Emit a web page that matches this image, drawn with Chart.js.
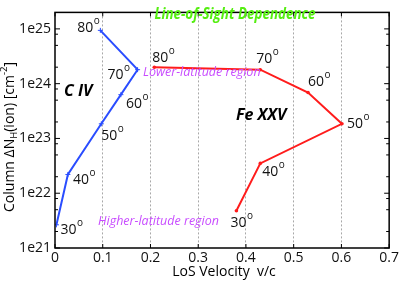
<!DOCTYPE html>
<html>
<head>
<meta charset="utf-8">
<script src="https://cdn.jsdelivr.net/npm/chart.js@4/dist/chart.umd.min.js"></script>
<style>
  html, body { margin: 0; padding: 0; background: #fff; }
  #wrap { width: 401px; height: 282px; }
</style>
</head>
<body>
<div id="wrap"><canvas id="losChart" width="401" height="282"></canvas></div>
<script>
// viewing angles (degrees) for each point
const angles = [30, 40, 50, 60, 70, 80];

// C IV: LoS velocity (v/c) and column density
const civVelocity = [0.003, 0.027, 0.097, 0.138, 0.173, 0.095];
const civColumn = [2.65e21, 2.2e22, 1.85e23, 6.3e23, 1.8e24, 9.4e24];

// Fe XXV
const fexxvVelocity = [0.38, 0.43, 0.601, 0.53, 0.43, 0.208];
const fexxvColumn = [4.8e21, 3.5e22, 1.85e23, 6.9e23, 1.8e24, 2.0e24];

// axis ticks
const xTicks = [0, 0.1, 0.2, 0.3, 0.4, 0.5, 0.6, 0.7];
const yTicks = [1e21, 1e22, 1e23, 1e24, 1e25];

// label offsets from each point (px), text left edge / middle
const civLabelOffsets = [[4, 5], [5, 6], [0, 12], [5, 9], [-30, 5], [-23, -2]];
const fexxvLabelOffsets = [[-6, 12], [2, 9], [5, 0], [0, -10], [-4, -11], [-2, -9]];

const FONT = '"Open Sans", "DejaVu Sans", sans-serif';
const NARROW = '"Liberation Sans Narrow", "Open Sans", sans-serif';
const BLUE = '#2a4dff';
const RED = '#ff1c1c';

function toPoints(xs, ys) {
    return xs.map((x, i) => ({ x: x, y: ys[i] }));
}

const annotations = {
    id: 'annotations',
    afterDraw(chart) {
        const ctx = chart.ctx;
        const xs = chart.scales.x;
        const ys = chart.scales.y;
        const area = chart.chartArea;

        ctx.save();

        // frame
        ctx.strokeStyle = '#000';
        ctx.lineWidth = 1.5;
        ctx.strokeRect(area.left, area.top, area.right - area.left, area.bottom - area.top);

        // inward ticks, y (major + minor) on both sides
        ctx.lineWidth = 1;
        yTicks.forEach((v, i) => {
            const py = ys.getPixelForValue(v);
            ctx.beginPath();
            ctx.moveTo(area.left, py); ctx.lineTo(area.left + 5, py);
            ctx.moveTo(area.right, py); ctx.lineTo(area.right - 5, py);
            ctx.stroke();
            if (i < yTicks.length - 1) {
                [2, 5, 8].forEach(m => {
                    const pm = ys.getPixelForValue(v * m);
                    ctx.beginPath();
                    ctx.moveTo(area.left, pm); ctx.lineTo(area.left + 3, pm);
                    ctx.moveTo(area.right, pm); ctx.lineTo(area.right - 3, pm);
                    ctx.stroke();
                });
            }
        });
        // inward ticks, x on top and bottom
        xTicks.forEach(v => {
            const px = xs.getPixelForValue(v);
            ctx.beginPath();
            ctx.moveTo(px, area.bottom); ctx.lineTo(px, area.bottom - 4);
            ctx.moveTo(px, area.top); ctx.lineTo(px, area.top + 4);
            ctx.stroke();
        });

        // angle labels
        function angleLabels(vx, vy, offs) {
            angles.forEach((a, i) => {
                const px = xs.getPixelForValue(vx[i]) + offs[i][0];
                const py = ys.getPixelForValue(vy[i]) + offs[i][1];
                ctx.fillStyle = '#111';
                ctx.textAlign = 'left';
                ctx.textBaseline = 'middle';
                ctx.font = '14px ' + FONT;
                const s = String(a);
                ctx.fillText(s, px, py);
                const w = ctx.measureText(s).width;
                ctx.font = '10px ' + FONT;
                ctx.fillText('o', px + w + 0.5, py - 7);
            });
        }
        angleLabels(civVelocity, civColumn, civLabelOffsets);
        angleLabels(fexxvVelocity, fexxvColumn, fexxvLabelOffsets);

        // ion names
        ctx.fillStyle = '#000';
        ctx.textAlign = 'left';
        ctx.textBaseline = 'middle';
        ctx.font = 'italic bold 16px ' + FONT;
        ctx.fillText('C IV', 64, 91, 31);
        ctx.fillText('Fe XXV', 236, 115, 55);

        // title-like note
        ctx.fillStyle = '#55ee11';
        ctx.textAlign = 'center';
        ctx.font = 'italic bold 16px ' + NARROW;
        ctx.fillText('Line-of-Sight Dependence', 235, 14, 161);

        // region notes
        ctx.fillStyle = '#c84cff';
        ctx.textAlign = 'left';
        ctx.font = 'italic 12.5px ' + FONT;
        ctx.fillText('Lower-latitude region', 143, 72, 123);
        ctx.fillText('Higher-latitude region', 98, 221, 128);

        // x axis title
        ctx.fillStyle = '#000';
        ctx.textAlign = 'center';
        ctx.font = '14px ' + FONT;
        ctx.fillText('LoS Velocity  v/c', 224, 272);

        // y axis title with sub/superscript
        ctx.translate(10, 137);
        ctx.rotate(-Math.PI / 2);
        const parts = [
            { t: 'Column \u0394N', size: 14, dy: 0 },
            { t: 'H', size: 9.5, dy: 4 },
            { t: '(ion) [cm', size: 14, dy: 0 },
            { t: '-2', size: 9.5, dy: -6 },
            { t: ']', size: 14, dy: 0 }
        ];
        let total = 0;
        parts.forEach(p => {
            ctx.font = p.size + 'px ' + FONT;
            p.w = ctx.measureText(p.t).width;
            total += p.w;
        });
        let cx = -total / 2;
        ctx.textAlign = 'left';
        parts.forEach(p => {
            ctx.font = p.size + 'px ' + FONT;
            ctx.fillText(p.t, cx, p.dy);
            cx += p.w;
        });

        ctx.restore();
    }
};

new Chart(document.getElementById('losChart'), {
    type: 'scatter',
    data: {
        datasets: [{
            label: 'C IV',
            data: toPoints(civVelocity, civColumn),
            showLine: true,
            borderColor: BLUE,
            backgroundColor: BLUE,
            borderWidth: 2,
            pointStyle: 'cross',
            pointRadius: 2.5,
            pointBorderWidth: 1
        }, {
            label: 'Fe XXV',
            data: toPoints(fexxvVelocity, fexxvColumn),
            showLine: true,
            borderColor: RED,
            backgroundColor: RED,
            borderWidth: 2,
            pointStyle: 'circle',
            pointRadius: 1.8,
            pointBorderWidth: 0
        }]
    },
    options: {
        responsive: false,
        animation: false,
        events: [],
        layout: { padding: { top: 1, right: 10, left: 0, bottom: 0 } },
        plugins: {
            legend: { display: false },
            tooltip: { enabled: false }
        },
        scales: {
            x: {
                type: 'linear',
                min: 0,
                max: 0.7,
                afterBuildTicks: scale => { scale.ticks = xTicks.map(v => ({ value: v })); },
                afterFit: scale => { scale.height = 34; },
                border: { display: false, dash: [2, 2] },
                grid: {
                    drawTicks: false,
                    color: c => (c.tick && (c.tick.value === 0 || c.tick.value === 0.7)) ? 'rgba(0,0,0,0)' : '#a8a8a8',
                    lineWidth: 1
                },
                ticks: {
                    padding: 2,
                    color: '#111',
                    font: { family: FONT, size: 14 },
                    callback: v => String(v)
                }
            },
            y: {
                type: 'logarithmic',
                min: 1e21,
                max: 2e25,
                afterBuildTicks: scale => { scale.ticks = yTicks.map(v => ({ value: v })); },
                afterFit: scale => { scale.width = 55; },
                border: { display: false },
                grid: { display: false, drawTicks: false },
                ticks: {
                    padding: 4,
                    color: '#111',
                    font: { family: FONT, size: 14 },
                    callback: v => '1e' + Math.round(Math.log10(v))
                }
            }
        }
    },
    plugins: [annotations]
});
</script>
</body>
</html>
